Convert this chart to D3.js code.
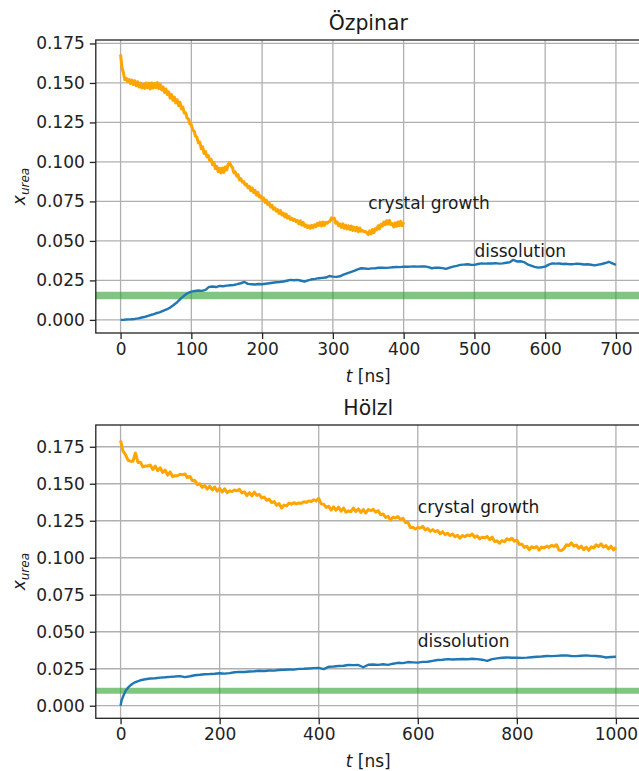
<!DOCTYPE html>
<html>
<head>
<meta charset="utf-8">
<script src="https://cdn.jsdelivr.net/npm/d3@7"></script>
<style>
  html, body { margin: 0; padding: 0; background: #fff; }
  svg { display: block; font-family: "DejaVu Sans", sans-serif; }
</style>
</head>
<body>
<svg id="chart" width="639" height="771"></svg>
<script>
// ---------------- data ----------------
const titles = ["Özpinar", "Hölzl"];
const yTickValues = [0, 0.025, 0.05, 0.075, 0.1, 0.125, 0.15, 0.175];
const yTickLabels = ["0.000", "0.025", "0.050", "0.075", "0.100", "0.125", "0.150", "0.175"];
const xTicksTop = [0, 100, 200, 300, 400, 500, 600, 700];
const xTicksBottom = [0, 200, 400, 600, 800, 1000];
const saturationTop = 0.0155;
const saturationBottom = 0.0102;

// Özpinar – crystal growth, t = 0..400 ns every 2 ns
const growthTopT = d3.range(0, 401, 2);
const growthTop = [
0.1680,0.1598,0.1565,0.1520,0.1530,0.1508,0.1522,0.1496,0.1518,0.1490,
0.1514,0.1482,0.1508,0.1474,0.1500,0.1468,0.1492,0.1466,0.1500,0.1470,
0.1498,0.1462,0.1500,0.1468,0.1496,0.1470,0.1502,0.1464,0.1492,0.1456,
0.1476,0.1440,0.1462,0.1426,0.1444,0.1404,0.1428,0.1390,0.1410,0.1374,
0.1394,0.1356,0.1378,0.1336,0.1348,0.1310,0.1312,0.1278,0.1272,0.1240,
0.1236,0.1200,0.1196,0.1162,0.1156,0.1120,0.1126,0.1084,0.1096,0.1054,
0.1066,0.1032,0.1040,0.1008,0.1016,0.0982,0.0996,0.0958,0.0972,0.0938,
0.0960,0.0930,0.0962,0.0934,0.0968,0.0950,0.0984,0.0996,0.0976,0.0966,
0.0932,0.0938,0.0910,0.0920,0.0886,0.0894,0.0872,0.0876,0.0854,0.0860,
0.0836,0.0846,0.0818,0.0836,0.0806,0.0820,0.0790,0.0808,0.0778,0.0786,
0.0762,0.0772,0.0744,0.0758,0.0730,0.0740,0.0714,0.0726,0.0700,0.0710,
0.0688,0.0698,0.0674,0.0692,0.0664,0.0676,0.0652,0.0670,0.0644,0.0656,
0.0636,0.0644,0.0630,0.0636,0.0622,0.0630,0.0608,0.0628,0.0600,0.0618,
0.0592,0.0602,0.0584,0.0596,0.0580,0.0598,0.0584,0.0602,0.0590,0.0612,
0.0598,0.0618,0.0594,0.0620,0.0598,0.0618,0.0612,0.0622,0.0624,0.0646,
0.0638,0.0644,0.0612,0.0620,0.0596,0.0608,0.0586,0.0608,0.0580,0.0600,
0.0576,0.0596,0.0572,0.0594,0.0566,0.0588,0.0564,0.0586,0.0558,0.0582,
0.0562,0.0566,0.0558,0.0560,0.0552,0.0540,0.0564,0.0544,0.0572,0.0552,
0.0578,0.0570,0.0596,0.0576,0.0606,0.0594,0.0620,0.0602,0.0628,0.0606,
0.0630,0.0604,0.0610,0.0588,0.0614,0.0592,0.0620,0.0596,0.0624,0.0596,
0.0618];

// Özpinar – dissolution, t = 0..700 ns every 5 ns
const dissTopT = d3.range(0, 701, 5);
const dissTop = [
0.0000,0.0001,0.0003,0.0004,0.0006,0.0010,0.0015,0.0020,0.0027,0.0034,
0.0042,0.0048,0.0057,0.0066,0.0078,0.0094,0.0112,0.0134,0.0154,0.0170,
0.0179,0.0183,0.0186,0.0184,0.0190,0.0209,0.0211,0.0208,0.0215,0.0213,
0.0217,0.0219,0.0221,0.0226,0.0232,0.0240,0.0228,0.0226,0.0224,0.0227,
0.0226,0.0229,0.0232,0.0235,0.0238,0.0240,0.0243,0.0248,0.0253,0.0251,
0.0253,0.0248,0.0243,0.0250,0.0257,0.0260,0.0264,0.0266,0.0268,0.0278,
0.0274,0.0272,0.0276,0.0286,0.0295,0.0303,0.0310,0.0320,0.0327,0.0325,
0.0323,0.0326,0.0327,0.0330,0.0331,0.0329,0.0331,0.0333,0.0335,0.0334,
0.0337,0.0336,0.0337,0.0339,0.0337,0.0338,0.0339,0.0334,0.0327,0.0331,
0.0330,0.0328,0.0323,0.0331,0.0337,0.0342,0.0348,0.0350,0.0352,0.0349,
0.0348,0.0354,0.0358,0.0356,0.0358,0.0357,0.0359,0.0356,0.0358,0.0362,
0.0365,0.0380,0.0370,0.0371,0.0366,0.0352,0.0344,0.0336,0.0331,0.0333,
0.0337,0.0350,0.0358,0.0356,0.0357,0.0354,0.0355,0.0352,0.0353,0.0356,
0.0354,0.0351,0.0352,0.0349,0.0345,0.0350,0.0354,0.0360,0.0368,0.0358,
0.0348];

// Hölzl – crystal growth, t = 0..1000 ns every 5 ns
const growthBottomT = d3.range(0, 1001, 5);
const growthBottom = [
0.1792,0.1720,0.1696,0.1660,0.1652,0.1652,0.1708,0.1644,0.1646,0.1614,
0.1620,0.1620,0.1626,0.1596,0.1620,0.1588,0.1608,0.1576,0.1592,0.1558,
0.1580,0.1548,0.1554,0.1554,0.1564,0.1560,0.1566,0.1542,0.1550,0.1520,
0.1522,0.1494,0.1500,0.1476,0.1488,0.1464,0.1484,0.1458,0.1478,0.1450,
0.1470,0.1444,0.1466,0.1440,0.1452,0.1448,0.1458,0.1452,0.1462,0.1438,
0.1446,0.1420,0.1440,0.1418,0.1444,0.1422,0.1428,0.1404,0.1410,0.1388,
0.1396,0.1372,0.1380,0.1354,0.1366,0.1336,0.1356,0.1350,0.1370,0.1362,
0.1372,0.1364,0.1370,0.1368,0.1378,0.1374,0.1384,0.1380,0.1392,0.1384,
0.1402,0.1364,0.1362,0.1340,0.1348,0.1322,0.1344,0.1320,0.1342,0.1314,
0.1336,0.1308,0.1316,0.1312,0.1336,0.1312,0.1330,0.1306,0.1326,0.1302,
0.1326,0.1318,0.1328,0.1308,0.1318,0.1290,0.1296,0.1272,0.1280,0.1254,
0.1274,0.1268,0.1278,0.1258,0.1266,0.1238,0.1240,0.1204,0.1206,0.1194,
0.1204,0.1200,0.1212,0.1188,0.1198,0.1178,0.1190,0.1176,0.1184,0.1162,
0.1176,0.1156,0.1166,0.1150,0.1160,0.1142,0.1152,0.1132,0.1150,0.1142,
0.1154,0.1148,0.1160,0.1138,0.1148,0.1128,0.1138,0.1134,0.1144,0.1122,
0.1140,0.1110,0.1114,0.1098,0.1116,0.1108,0.1128,0.1120,0.1132,0.1112,
0.1120,0.1090,0.1092,0.1070,0.1078,0.1054,0.1074,0.1066,0.1076,0.1052,
0.1072,0.1066,0.1078,0.1070,0.1084,0.1076,0.1088,0.1052,0.1048,0.1062,
0.1088,0.1082,0.1100,0.1078,0.1086,0.1064,0.1078,0.1054,0.1072,0.1050,
0.1074,0.1066,0.1088,0.1076,0.1094,0.1072,0.1082,0.1060,0.1078,0.1052,
0.1070];

// Hölzl – dissolution
const dissBottomT = [0, 2, 5, 10, 15, 20, 25, 30].concat(d3.range(40, 1001, 10));
const dissBottom = [
0.0000,0.0035,0.0062,0.0100,0.0122,0.0138,0.0150,0.0160,
0.0172,0.0179,0.0184,0.0186,0.0190,0.0192,0.0195,0.0197,0.0200,0.0193,
0.0199,0.0206,0.0209,0.0213,0.0214,0.0216,0.0219,0.0217,0.0220,0.0226,
0.0229,0.0228,0.0231,0.0233,0.0236,0.0235,0.0238,0.0237,0.0241,0.0243,
0.0245,0.0244,0.0249,0.0250,0.0252,0.0254,0.0256,0.0247,0.0263,0.0265,
0.0268,0.0270,0.0275,0.0274,0.0275,0.0260,0.0277,0.0279,0.0276,0.0280,
0.0276,0.0284,0.0290,0.0288,0.0295,0.0293,0.0291,0.0296,0.0297,0.0303,
0.0309,0.0311,0.0315,0.0312,0.0314,0.0316,0.0314,0.0317,0.0315,0.0311,
0.0303,0.0315,0.0320,0.0324,0.0326,0.0324,0.0325,0.0323,0.0325,0.0328,
0.0331,0.0333,0.0336,0.0335,0.0337,0.0339,0.0340,0.0336,0.0335,0.0338,
0.0340,0.0337,0.0336,0.0333,0.0326,0.0329,0.0331];

// ---------------- drawing ----------------
const svg = d3.select("#chart");
const FS = 17;          // tick / annotation font size
const TITLE_FS = 20.4;

const panels = [
  {
    title: titles[0], top: 40, bottom: 333, xDomain: [-35, 735], yDomain: [-0.0083, 0.1772],
    xTicks: xTicksTop, sat: saturationTop,
    growth: { t: growthTopT, v: growthTop }, diss: { t: dissTopT, v: dissTop },
    labels: [{ text: "crystal growth", x: 350, y: 0.07 }, { text: "dissolution", x: 500, y: 0.04 }],
    satWidth: 7.5
  },
  {
    title: titles[1], top: 425, bottom: 718.3, xDomain: [-50, 1050], yDomain: [-0.0085, 0.1897],
    xTicks: xTicksBottom, sat: saturationBottom,
    growth: { t: growthBottomT, v: growthBottom }, diss: { t: dissBottomT, v: dissBottom },
    labels: [{ text: "crystal growth", x: 600, y: 0.13 }, { text: "dissolution", x: 600, y: 0.04 }],
    satWidth: 6
  }
];

const left = 95.8, right = 640.7;

panels.forEach((p, i) => {
  const x = d3.scaleLinear().domain(p.xDomain).range([left, right]);
  const y = d3.scaleLinear().domain(p.yDomain).range([p.bottom, p.top]);
  const g = svg.append("g");

  const clipId = "clip" + i;
  svg.append("clipPath").attr("id", clipId)
    .append("rect").attr("x", left).attr("y", p.top)
    .attr("width", right - left).attr("height", p.bottom - p.top);

  // grid
  const grid = g.append("g").attr("stroke", "#b0b0b0").attr("stroke-width", 1.3);
  grid.selectAll(".gx").data(p.xTicks).join("line")
    .attr("x1", d => x(d)).attr("x2", d => x(d))
    .attr("y1", p.top).attr("y2", p.bottom);
  grid.selectAll(".gy").data(yTickValues).join("line")
    .attr("x1", left).attr("x2", right)
    .attr("y1", d => y(d)).attr("y2", d => y(d));

  const plot = g.append("g").attr("clip-path", `url(#${clipId})`);

  // saturation band
  plot.append("line")
    .attr("x1", left).attr("x2", right)
    .attr("y1", y(p.sat)).attr("y2", y(p.sat))
    .attr("stroke", "#2ca02c").attr("stroke-opacity", 0.6)
    .attr("stroke-width", p.satWidth);

  const line = d3.line().x(d => x(d[0])).y(d => y(d[1]));

  plot.append("path")
    .datum(p.diss.t.map((t, k) => [t, p.diss.v[k]]))
    .attr("d", line).attr("fill", "none")
    .attr("stroke", "#1f77b4").attr("stroke-width", 2.4)
    .attr("stroke-linejoin", "round");

  plot.append("path")
    .datum(p.growth.t.map((t, k) => [t, p.growth.v[k]]))
    .attr("d", line).attr("fill", "none")
    .attr("stroke", "#ffa500").attr("stroke-width", 3.0)
    .attr("stroke-linejoin", "round");

  // annotations
  g.selectAll(".ann").data(p.labels).join("text")
    .attr("x", d => x(d.x)).attr("y", d => y(d.y))
    .attr("font-size", FS).attr("fill", "#1a1a1a")
    .text(d => d.text);

  // axes
  const xAxis = d3.axisBottom(x).tickValues(p.xTicks).tickSize(6).tickPadding(4)
    .tickFormat(d3.format("d"));
  const yAxis = d3.axisLeft(y).tickValues(yTickValues).tickSize(6).tickPadding(5)
    .tickFormat((d, k) => yTickLabels[k]);

  const gx = g.append("g").attr("transform", `translate(0,${p.bottom})`).call(xAxis);
  const gy = g.append("g").attr("transform", `translate(${left},0)`).call(yAxis);
  [gx, gy].forEach(a => {
    a.select(".domain").remove();
    a.selectAll(".tick line").attr("stroke", "#222").attr("stroke-width", 1.3);
    a.selectAll(".tick text").attr("font-size", FS).attr("fill", "#222")
      .attr("font-family", "DejaVu Sans");
  });

  // spines
  g.append("rect").attr("x", left).attr("y", p.top)
    .attr("width", right - left).attr("height", p.bottom - p.top)
    .attr("fill", "none").attr("stroke", "#222").attr("stroke-width", 1.3);

  // title
  g.append("text").attr("x", (left + right) / 2).attr("y", p.top - 10)
    .attr("text-anchor", "middle").attr("font-size", TITLE_FS).attr("fill", "#1a1a1a")
    .text(p.title);

  // x label
  const xl = g.append("text").attr("x", (left + right) / 2).attr("y", p.bottom + 48.5)
    .attr("text-anchor", "middle").attr("font-size", FS).attr("fill", "#1a1a1a");
  xl.append("tspan").attr("font-style", "italic").text("t");
  xl.append("tspan").text(" [ns]");

  // y label
  const yl = g.append("text")
    .attr("transform", `translate(25,${(p.top + p.bottom) / 2}) rotate(-90)`)
    .attr("text-anchor", "middle").attr("font-size", FS).attr("fill", "#1a1a1a");
  yl.append("tspan").attr("font-style", "italic").text("x");
  yl.append("tspan").attr("font-style", "italic").attr("font-size", 12)
    .attr("dy", 4).text("urea");
});
</script>
</body>
</html>
